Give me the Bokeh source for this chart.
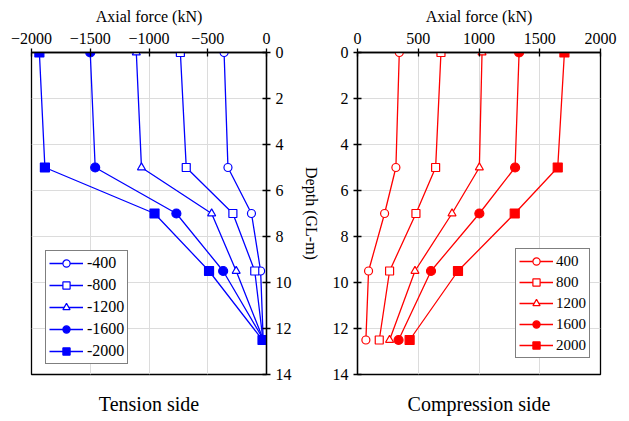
from bokeh.plotting import figure
from bokeh.models import Range1d, FixedTicker, LinearAxis
from bokeh.layouts import row
from bokeh.embed import file_html
from bokeh.resources import INLINE

depth = [0, 5, 7, 9.5, 12.5]

# Tension side (kN)
t_labels = ["-400", "-800", "-1200", "-1600", "-2000"]
t_400 = [-361, -328, -128, -50, -28]
t_800 = [-733, -683, -286, -100, -30]
t_1200 = [-1108, -1064, -467, -258, -26]
t_1600 = [-1500, -1458, -767, -369, -24]
t_2000 = [-1933, -1886, -953, -489, -34]

# Compression side (kN)
c_labels = ["400", "800", "1200", "1600", "2000"]
c_400 = [344, 316, 223, 91, 69]
c_800 = [687, 643, 481, 264, 179]
c_1200 = [1025, 1003, 778, 473, 264]
c_1600 = [1330, 1297, 1003, 605, 338]
c_2000 = [1703, 1648, 1294, 827, 429]

t_range = (-2000, 0)
c_range = (0, 2000)
depth_range = (14, 0)

markers = ["circle", "square", "triangle", "circle", "square"]
filled = [False, False, False, True, True]
sizes = [8, 8, 8, 9, 9]

FONT = "Liberation Serif"


def style(p, xticks):
    p.outline_line_color = "black"
    p.outline_line_width = 1.3
    p.xgrid.ticker = FixedTicker(ticks=xticks)
    p.ygrid.ticker = FixedTicker(ticks=list(range(0, 15, 2)))
    for g in (p.xgrid, p.ygrid):
        g.grid_line_color = "#dcdcdc"
        g.grid_line_width = 1
    p.xaxis.ticker = FixedTicker(ticks=xticks)
    p.yaxis.ticker = FixedTicker(ticks=list(range(0, 15, 2)))
    for ax in list(p.xaxis) + list(p.yaxis):
        ax.major_tick_in = 4
        ax.major_tick_out = 4
        ax.minor_tick_line_color = None
        ax.major_tick_line_color = "black"
        ax.major_tick_line_width = 1.3
        ax.axis_line_color = "black"
        ax.axis_line_width = 1.3
        ax.major_label_text_font = FONT
        ax.major_label_text_font_size = "16px"
        ax.major_label_text_color = "black"
        ax.axis_label_text_font = FONT
        ax.axis_label_text_font_size = "16px"
        ax.axis_label_text_font_style = "normal"
        ax.axis_label_text_color = "black"
        ax.axis_label_standoff = 5
    p.xaxis.axis_label = "Axial force (kN)"


def add_series(p, series, labels, color):
    for vals, lab, m, f, s in zip(series, labels, markers, filled, sizes):
        p.line(vals, depth, line_color=color, line_width=1.3, legend_label=lab)
        p.scatter(vals, depth, marker=m, size=s, line_color=color, line_width=1.2,
                  fill_color=color if f else "white", legend_label=lab)


def style_legend(p, loc, fsize, spacing, padding, gw, standoff):
    lg = p.legend[0]
    lg.location = loc
    lg.border_line_color = "black"
    lg.border_line_width = 1.2
    lg.background_fill_color = "white"
    lg.background_fill_alpha = 1
    lg.label_text_font = FONT
    lg.label_text_font_size = fsize
    lg.label_text_color = "black"
    lg.glyph_width = gw
    lg.glyph_height = 18
    lg.spacing = spacing
    lg.padding = padding
    lg.margin = 0
    lg.label_standoff = standoff


def add_bottom_title(p, text):
    ax = LinearAxis(ticker=FixedTicker(ticks=[]), axis_label=text,
                    axis_line_color=None, major_tick_line_color=None,
                    minor_tick_line_color=None, major_tick_out=0, major_tick_in=0,
                    major_label_text_font_size="0px",
                    axis_label_text_font=FONT, axis_label_text_font_size="20px",
                    axis_label_text_font_style="normal", axis_label_text_color="black",
                    axis_label_standoff=18)
    p.add_layout(ax, "below")


p1 = figure(width=322, height=421, x_range=Range1d(*t_range), y_range=Range1d(*depth_range),
            x_axis_location="above", y_axis_location="right",
            output_backend="svg", toolbar_location=None,
            min_border_left=31, min_border_right=51, min_border_top=52, min_border_bottom=47)
add_series(p1, [t_400, t_800, t_1200, t_1600, t_2000], t_labels, "#0000ff")
style(p1, [-2000, -1500, -1000, -500, 0])
p1.yaxis.axis_label = "Depth (GL-m)"
p1.yaxis.axis_label_standoff = 8
style_legend(p1, (14, 10), "16px", 4, 3, 34, 4)
add_bottom_title(p1, "Tension side")

p2 = figure(width=307, height=421, x_range=Range1d(*c_range), y_range=Range1d(*depth_range),
            x_axis_location="above", y_axis_location="left",
            output_backend="svg", toolbar_location=None,
            min_border_left=35, min_border_right=29, min_border_top=52, min_border_bottom=47)
add_series(p2, [c_400, c_800, c_1200, c_1600, c_2000], c_labels, "#ff0000")
style(p2, [0, 500, 1000, 1500, 2000])
style_legend(p2, (158, 16), "15px", 3, 3, 34, 3)
add_bottom_title(p2, "Compression side")

for p in (p1, p2):
    p.background_fill_color = "white"
    p.border_fill_color = "white"

layout = row(p1, p2)
open("out.html", "w").write(file_html(layout, INLINE))
